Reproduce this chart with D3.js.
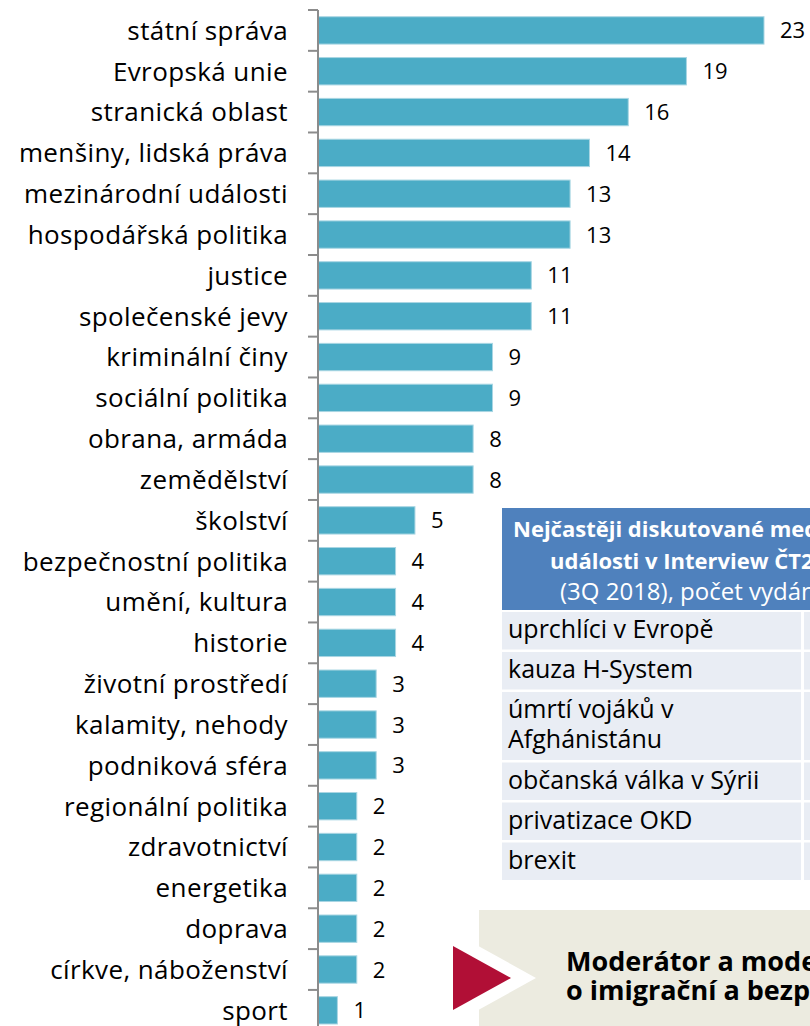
<!DOCTYPE html>
<html>
<head>
<meta charset="utf-8">
<script src="https://cdn.jsdelivr.net/npm/d3@7"></script>
<style>
  body { margin: 0; background: #fff; }
  svg { display: block; font-family: "Open Sans", sans-serif; }
</style>
</head>
<body>
<svg id="chart" width="810" height="1026"></svg>
<script>
var categories = ["státní správa", "Evropská unie", "stranická oblast", "menšiny, lidská práva",
    "mezinárodní události", "hospodářská politika", "justice", "společenské jevy",
    "kriminální činy", "sociální politika", "obrana, armáda", "zemědělství", "školství",
    "bezpečnostní politika", "umění, kultura", "historie", "životní prostředí",
    "kalamity, nehody", "podniková sféra", "regionální politika", "zdravotnictví",
    "energetika", "doprava", "církve, náboženství", "sport"];
var counts = [23, 19, 16, 14, 13, 13, 11, 11, 9, 9, 8, 8, 5, 4, 4, 4, 3, 3, 3, 2, 2, 2, 2, 2, 1];

var tableTitle = ["Nejčastěji diskutované mediální", "události v Interview ČT24", "(3Q 2018), počet vydání"];
var tableTopics = [["uprchlíci v Evropě"], ["kauza H-System"], ["úmrtí vojáků v", "Afghánistánu"],
    ["občanská válka v Sýrii"], ["privatizace OKD"], ["brexit"]];

var calloutLines = ["Moderátor a moderátorka se nejčastěji ptali", "o imigrační a bezpečnostní politice"];

var svg = d3.select("#chart");
var data = categories.map(function(c, i){ return {name: c, value: counts[i]}; });

var y = d3.scaleBand()
    .domain(categories)
    .range([10, 10 + 25 * 40.83])
    .paddingInner(0.33)
    .paddingOuter(0.165);

var x = d3.scaleLinear().domain([0, 23]).range([318, 764]);

// bars
svg.selectAll("rect.bar")
    .data(data)
    .enter()
    .append("rect")
    .attr("class", "bar")
    .attr("x", x(0))
    .attr("y", function(d){ return y(d.name); })
    .attr("width", function(d){ return x(d.value) - x(0); })
    .attr("height", y.bandwidth())
    .attr("fill", "#4bacc6")
    .attr("stroke", "#a9d6e3")
    .attr("stroke-width", 1);

// value labels
svg.selectAll("text.val")
    .data(data)
    .enter()
    .append("text")
    .attr("class", "val")
    .attr("x", function(d){ return x(d.value) + 16; })
    .attr("y", function(d){ return y(d.name) + y.bandwidth() / 2 + 8; })
    .attr("font-size", "22px")
    .attr("fill", "#000")
    .text(function(d){ return d.value; });

// category axis
var axis = svg.append("g")
    .attr("transform", "translate(" + x(0) + ",0)")
    .call(d3.axisLeft(y).tickSize(0).tickPadding(30));
axis.select(".domain").remove();
axis.selectAll("text")
    .attr("font-size", "26px")
    .attr("letter-spacing", "0.4px")
    .attr("font-family", "'Open Sans', sans-serif")
    .attr("fill", "#000")
    .attr("dy", "0.36em");

var tickPos = categories.map(function(c){ return y(c) - y.step() * y.paddingOuter(); });
tickPos.push(y.range()[1]);
svg.append("line")
    .attr("x1", x(0)).attr("x2", x(0))
    .attr("y1", tickPos[0]).attr("y2", y.range()[1])
    .attr("stroke", "#8c8c8c").attr("stroke-width", 2);
svg.selectAll("line.tick")
    .data(tickPos)
    .enter()
    .append("line")
    .attr("class", "tick")
    .attr("x1", x(0) - 10).attr("x2", x(0))
    .attr("y1", function(d){ return d; }).attr("y2", function(d){ return d; })
    .attr("stroke", "#8c8c8c").attr("stroke-width", 2);

// table
var table = svg.append("g");
table.append("rect")
    .attr("x", 502).attr("y", 508).attr("width", 360).attr("height", 102)
    .attr("fill", "#4f81bd");
var headX = [513, 550, 560];
table.selectAll("text.head")
    .data(tableTitle)
    .enter()
    .append("text")
    .attr("x", function(d, i){ return headX[i]; })
    .attr("y", function(d, i){ return 537 + i * 31.5; })
    .attr("font-size", function(d, i){ return i < 2 ? "22px" : "24px"; })
    .attr("font-weight", function(d, i){ return i < 2 ? "bold" : "normal"; })
    .attr("fill", "#fff")
    .text(function(d){ return d; });

var rowTop = 612;
tableTopics.forEach(function(lines){
    var h = lines.length > 1 ? 68 : 37.5;
    table.append("rect")
        .attr("x", 502).attr("y", rowTop).attr("width", 299).attr("height", h)
        .attr("fill", "#e9edf4");
    table.append("rect")
        .attr("x", 804).attr("y", rowTop).attr("width", 60).attr("height", h)
        .attr("fill", "#e9edf4");
    lines.forEach(function(t, j){
        table.append("text")
            .attr("x", 508)
            .attr("y", rowTop + 26 + j * 30)
            .attr("font-size", "25px")
            .attr("fill", "#000")
            .text(t);
    });
    rowTop += h + 2.5;
});

// callout
var callout = svg.append("g");
callout.append("rect")
    .attr("x", 479).attr("y", 910).attr("width", 340).attr("height", 120)
    .attr("fill", "#ecebe0");
callout.append("polygon")
    .attr("points", "453,932 536,978 453,1024")
    .attr("fill", "#fff");
callout.append("polygon")
    .attr("points", "453,946 511,978 453,1010")
    .attr("fill", "#b10f36");
callout.selectAll("text")
    .data(calloutLines)
    .enter()
    .append("text")
    .attr("x", 566)
    .attr("y", function(d, i){ return 971 + i * 29; })
    .attr("font-size", "27px")
    .attr("font-weight", "bold")
    .attr("fill", "#000")
    .text(function(d){ return d; });
</script>
</body>
</html>
